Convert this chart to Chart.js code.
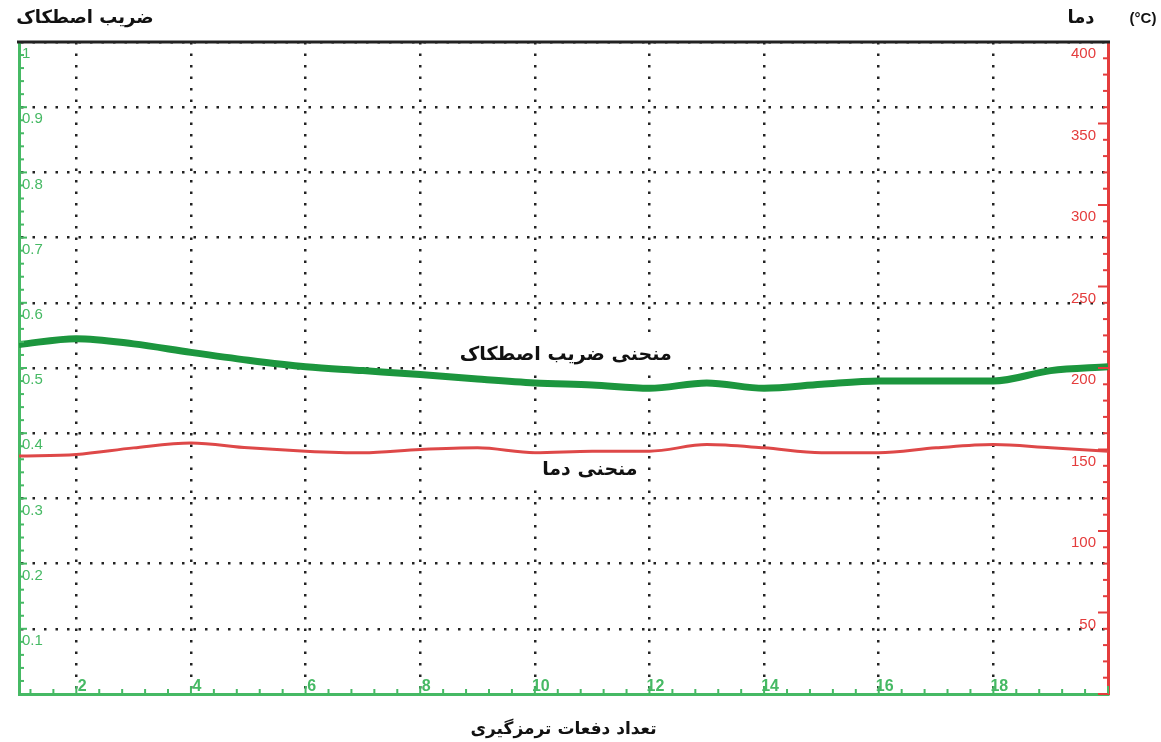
<!DOCTYPE html>
<html>
<head>
<meta charset="utf-8">
<script src="https://cdn.jsdelivr.net/npm/chart.js@4.4.0/dist/chart.umd.min.js"></script>
<style>
  html, body { margin: 0; padding: 0; background: #fff; }
  #wrap { width: 1161px; height: 742px; }
</style>
</head>
<body>
<div id="wrap"><canvas id="brakeChart"></canvas></div>
<script>
// braking count (x), friction coefficient (left axis), temperature in °C (right axis)
const brakingCount = [1, 2, 3, 4, 5, 6, 7, 8, 9, 10, 11, 12, 13, 14, 15, 16, 17, 18, 19, 20];
const frictionCoef = [0.536, 0.545, 0.537, 0.524, 0.512, 0.502, 0.496, 0.490, 0.483, 0.477,
                      0.474, 0.469, 0.477, 0.469, 0.475, 0.480, 0.480, 0.480, 0.496, 0.502];
const temperature  = [146, 147, 151, 154, 151, 149, 148, 150, 151, 148,
                      149, 149, 153, 151, 148, 148, 151, 153, 151, 149];

const xTicks = [2, 4, 6, 8, 10, 12, 14, 16, 18];
const frictionTicks = [0, 0.1, 0.2, 0.3, 0.4, 0.5, 0.6, 0.7, 0.8, 0.9, 1];
const tempTicks = [0, 50, 100, 150, 200, 250, 300, 350, 400];

const titleLeft = 'ضریب اصطکاک';
const titleRight = 'دما';
const titleRightUnit = '(°C)';
const titleX = 'تعداد دفعات ترمزگیری';
const frictionLabel = 'منحنی ضریب اصطکاک';
const tempLabel = 'منحنی دما';

const green = 'rgb(28,150,62)';
const axisGreen = 'rgb(70,185,100)';
const red = 'rgb(222,72,72)';
const axisRed = 'rgb(228,60,60)';
const persianFont = '"DejaVu Sans", sans-serif';
const latinFont = '"Liberation Sans", Arial, sans-serif';

// small inner tick marks between the labelled ones, plus the black top frame
const minorTicks = {
  id: 'minorTicks',
  afterDraw(chart) {
    const { ctx, chartArea: a, scales } = chart;
    ctx.save();
    ctx.lineWidth = 2;

    ctx.strokeStyle = axisGreen;
    for (let i = 0; i <= 50; i++) {
      const v = i * 0.4;
      if (v < scales.x.min || v > scales.x.max) continue;
      const px = scales.x.getPixelForValue(v);
      const len = (i % 5 === 0) ? 8 : 5;
      ctx.beginPath(); ctx.moveTo(px, a.bottom); ctx.lineTo(px, a.bottom - len); ctx.stroke();
    }
    for (let i = 0; i <= 50; i++) {
      const py = scales.y.getPixelForValue(i * 0.02);
      const len = (i % 5 === 0) ? 8 : 5;
      ctx.beginPath(); ctx.moveTo(a.left, py); ctx.lineTo(a.left + len, py); ctx.stroke();
    }

    ctx.strokeStyle = axisRed;
    for (let i = 0; i <= 40; i++) {
      const py = scales.y1.getPixelForValue(i * 10);
      const len = (i % 5 === 0) ? 10 : 5;
      ctx.beginPath(); ctx.moveTo(a.right, py); ctx.lineTo(a.right - len, py); ctx.stroke();
    }

    ctx.strokeStyle = '#222';
    ctx.lineWidth = 3;
    ctx.beginPath(); ctx.moveTo(a.left - 2, a.top); ctx.lineTo(a.right + 2, a.top); ctx.stroke();
    ctx.restore();
  }
};

// curve names and axis names
const textLabels = {
  id: 'textLabels',
  afterDatasetsDraw(chart) {
    const { ctx, chartArea: a, scales } = chart;
    ctx.save();
    ctx.textAlign = 'center';
    ctx.textBaseline = 'middle';
    ctx.font = 'bold 19px ' + persianFont;

    const boxes = [
      { text: frictionLabel, x: 10.54, y: 0.52, w: 234, h: 34 },
      { text: tempLabel, x: 10.96, y: 0.344, w: 114, h: 30 }
    ];
    boxes.forEach(b => {
      const px = scales.x.getPixelForValue(b.x);
      const py = scales.y.getPixelForValue(b.y);
      ctx.fillStyle = '#fff';
      ctx.fillRect(px - b.w / 2, py - b.h / 2, b.w, b.h);
      ctx.fillStyle = '#111';
      ctx.fillText(b.text, px, py);
    });

    ctx.font = 'bold 18px ' + persianFont;
    ctx.fillText(titleLeft, a.left + 66, 18);
    ctx.fillText(titleRight, a.right - 27, 18);
    ctx.font = 'bold 15px ' + latinFont;
    ctx.fillText(titleRightUnit, a.right + 35, 19);
    ctx.restore();
  }
};

const dotted = { color: '#222', lineWidth: 2.5 };

new Chart(document.getElementById('brakeChart'), {
  type: 'line',
  data: {
    datasets: [
      {
        label: frictionLabel,
        data: brakingCount.map((n, i) => ({ x: n, y: frictionCoef[i] })),
        yAxisID: 'y',
        borderColor: green,
        borderWidth: 7,
        pointRadius: 0,
        cubicInterpolationMode: 'monotone'
      },
      {
        label: tempLabel,
        data: brakingCount.map((n, i) => ({ x: n, y: temperature[i] })),
        yAxisID: 'y1',
        borderColor: red,
        borderWidth: 3,
        pointRadius: 0,
        cubicInterpolationMode: 'monotone'
      }
    ]
  },
  options: {
    responsive: true,
    maintainAspectRatio: false,
    animation: false,
    layout: { padding: { left: 19, right: 53, top: 42, bottom: 0 } },
    plugins: {
      legend: { display: false },
      tooltip: { enabled: false }
    },
    scales: {
      x: {
        type: 'linear',
        position: 'bottom',
        min: 1,
        max: 20,
        afterBuildTicks: s => { s.ticks = xTicks.map(v => ({ value: v })); },
        afterFit: s => { s.height = 48; },
        grid: { ...dotted, drawTicks: false },
        border: { color: axisGreen, width: 3, dash: [2.5, 9] },
        ticks: {
          mirror: true,
          color: axisGreen,
          font: { family: latinFont, size: 16, weight: 'bold' },
          padding: -2,
          labelOffset: 6,
          maxRotation: 0,
          autoSkip: false
        },
        title: {
          display: true,
          text: titleX,
          color: '#111',
          font: { family: persianFont, size: 17, weight: 'bold' },
          padding: { top: 0, bottom: 2 }
        }
      },
      y: {
        position: 'left',
        min: 0,
        max: 1,
        afterBuildTicks: s => { s.ticks = frictionTicks.map(v => ({ value: v })); },
        afterFit: s => { s.width = 0; },
        grid: { ...dotted, drawTicks: false },
        border: { color: axisGreen, width: 3, dash: [2.5, 9] },
        ticks: {
          mirror: true,
          padding: 3,
          labelOffset: 12,
          color: axisGreen,
          font: { family: latinFont, size: 15 },
          callback: v => (v === 0 ? '' : String(v))
        }
      },
      y1: {
        position: 'right',
        min: 0,
        max: 400,
        afterBuildTicks: s => { s.ticks = tempTicks.map(v => ({ value: v })); },
        afterFit: s => { s.width = 0; },
        grid: { drawOnChartArea: false, drawTicks: false },
        border: { color: axisRed, width: 3 },
        ticks: {
          mirror: true,
          padding: -12,
          labelOffset: 12,
          color: axisRed,
          font: { family: latinFont, size: 15 },
          callback: v => (v === 0 ? '' : String(v))
        }
      }
    }
  },
  plugins: [minorTicks, textLabels]
});
</script>
</body>
</html>
